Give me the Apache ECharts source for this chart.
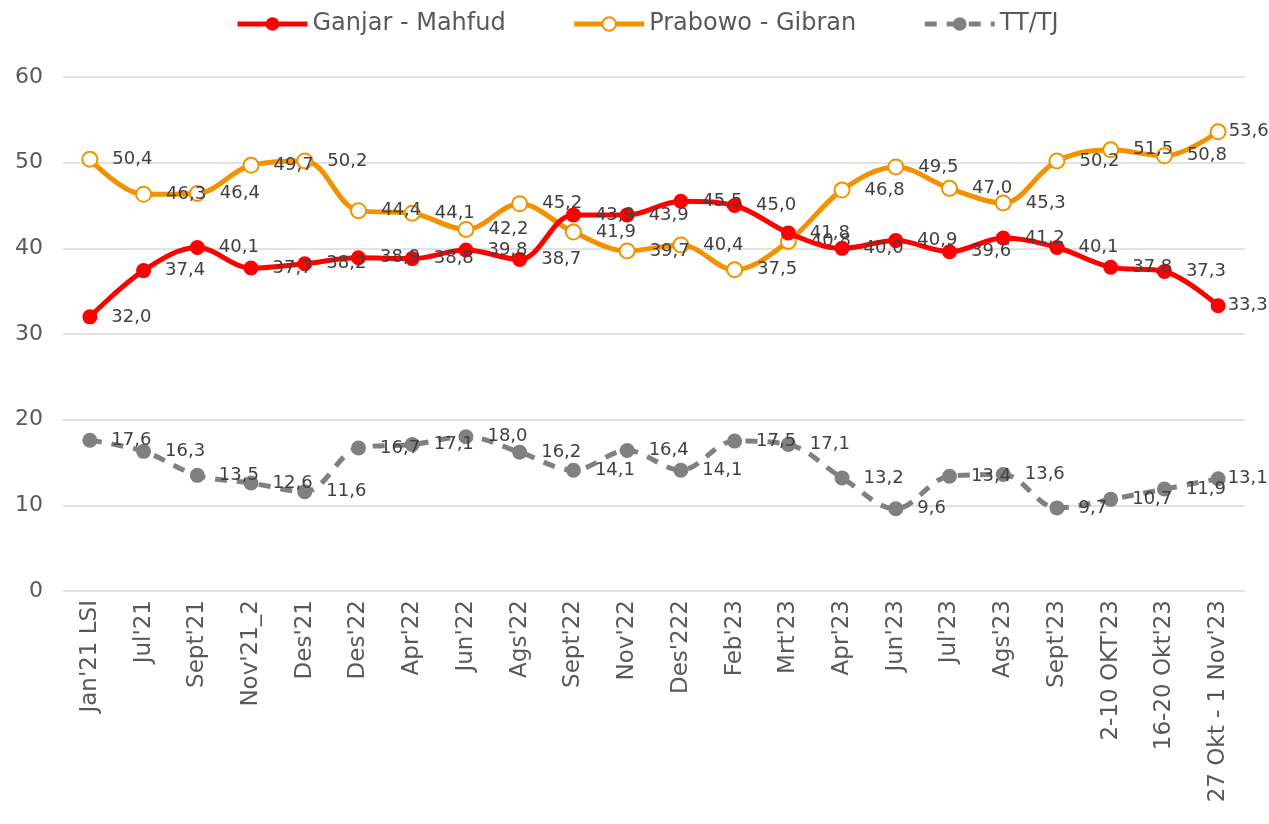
<!DOCTYPE html>
<html>
<head>
<meta charset="utf-8">
<script src="https://cdn.jsdelivr.net/npm/echarts@6/dist/echarts.min.js"></script>
<style>
html,body{margin:0;padding:0;background:#fff;}
#chart{width:1269px;height:824px;}
</style>
</head>
<body>
<div id="chart"></div>
<script>
var categories = ["Jan'21 LSI","Jul'21","Sept'21","Nov'21_2","Des'21","Des'22","Apr'22","Jun'22","Ags'22","Sept'22","Nov'22","Des'222","Feb'23","Mrt'23","Apr'23","Jun'23","Jul'23","Ags'23","Sept'23","2-10 OKT'23","16-20 Okt'23","27 Okt - 1 Nov'23"];
var ganjar = [32.0,37.4,40.1,37.7,38.2,38.9,38.8,39.8,38.7,43.9,43.9,45.5,45.0,41.8,40.0,40.9,39.6,41.2,40.1,37.8,37.3,33.3];
var prabowo = [50.4,46.3,46.4,49.7,50.2,44.4,44.1,42.2,45.2,41.9,39.7,40.4,37.5,40.8,46.8,49.5,47.0,45.3,50.2,51.5,50.8,53.6];
var tttj = [17.6,16.3,13.5,12.6,11.6,16.7,17.1,18.0,16.2,14.1,16.4,14.1,17.5,17.1,13.2,9.6,13.4,13.6,9.7,10.7,11.9,13.1];
var yTicks = {min:0,max:60,interval:10};

var FONT = "'DejaVu Sans', sans-serif";
var chart = echarts.init(document.getElementById('chart'));
function lbl(){
  return {show:true,position:'right',distance:14,fontFamily:FONT,fontSize:18,color:'#404040',
    formatter:function(p){return p.value.toFixed(1).replace('.',',');}};
}
function toData(arr){
  return arr.map(function(v,i){
    if(i===arr.length-1){return {value:v,label:{distance:2}};}
    return v;
  });
}
chart.setOption({
  animation:false,
  textStyle:{fontFamily:FONT},
  legend:{top:7,left:230,itemWidth:70,itemHeight:17,itemGap:66,
    textStyle:{fontFamily:FONT,fontSize:24,color:'#595959'},
    data:[
      {name:'Ganjar - Mahfud',lineStyle:{width:5}},
      {name:'Prabowo - Gibran',lineStyle:{width:5}},
      {name:'TT/TJ',lineStyle:{width:5}}
    ]},
  grid:{left:63,right:24,top:77,bottom:233,containLabel:false},
  xAxis:{type:'category',data:categories,boundaryGap:true,
    axisLine:{show:false},axisTick:{show:false},
    axisLabel:{rotate:90,interval:0,fontFamily:FONT,fontSize:23,color:'#595959',margin:9}},
  yAxis:{type:'value',min:yTicks.min,max:yTicks.max,interval:yTicks.interval,
    axisLine:{show:false},axisTick:{show:false},
    axisLabel:{fontFamily:FONT,fontSize:22,color:'#595959',margin:20},
    splitLine:{lineStyle:{color:'#d9d9d9',width:1.5}}},
  series:[
    {name:'Ganjar - Mahfud',type:'line',data:toData(ganjar),smooth:0.35,symbol:'circle',symbolSize:15,
      lineStyle:{color:'#ff0000',width:5},itemStyle:{color:'#ff0000'},label:lbl(),z:3},
    {name:'Prabowo - Gibran',type:'line',data:toData(prabowo),smooth:0.35,symbol:'circle',symbolSize:15,
      lineStyle:{color:'#f39200',width:5},itemStyle:{color:'#ffffff',borderColor:'#f39200',borderWidth:2},label:lbl(),z:2},
    {name:'TT/TJ',type:'line',data:toData(tttj),smooth:0.35,symbol:'circle',symbolSize:15,
      lineStyle:{color:'#808080',width:5,type:[12,10]},itemStyle:{color:'#808080'},label:lbl(),z:1}
  ]
});
</script>
</body>
</html>
